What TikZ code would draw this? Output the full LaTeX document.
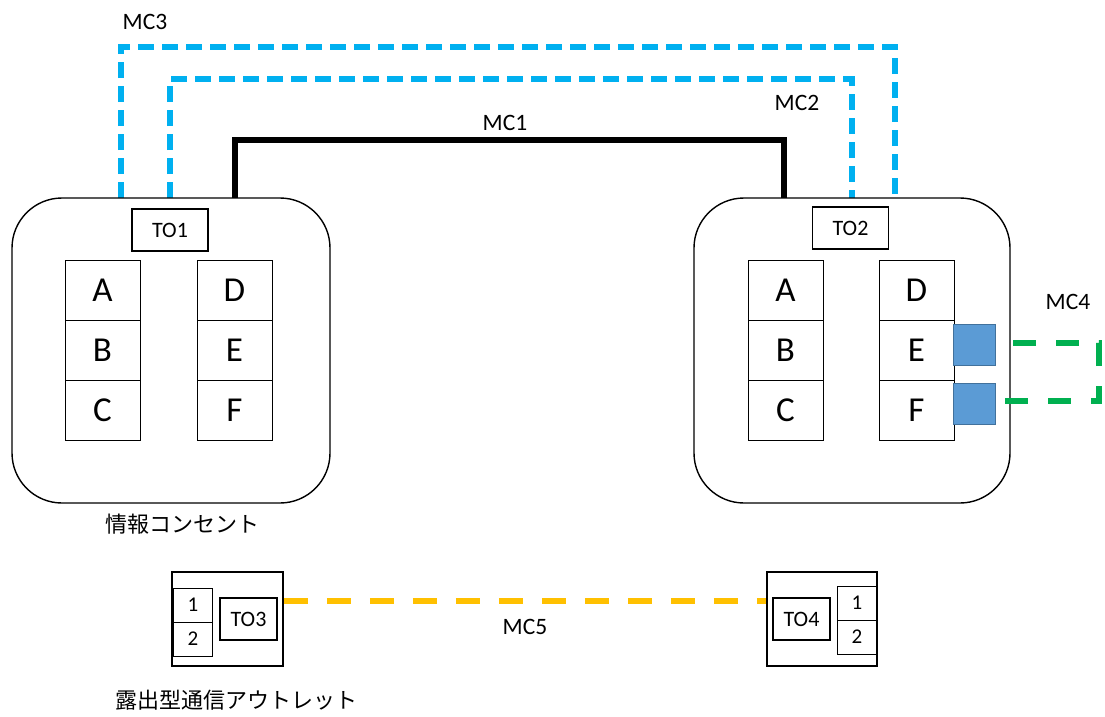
\documentclass[tikz,border=0pt]{standalone}
\usepackage{fontspec}
\setmainfont{Carlito}
\newfontfamily\jpfont{Noto Sans CJK JP}
\begin{document}
\begin{tikzpicture}[x=1pt,y=-1pt,
  outlet/.style={draw,line width=1.4pt,rounded corners=50pt},
  tobox/.style={draw,line width=1.5pt,minimum width=76pt,minimum height=42pt,inner sep=0pt,font=\fontsize{22}{26}\selectfont},
  port/.style={draw,line width=0.7pt,minimum width=75pt,minimum height=60pt,inner sep=0pt,font=\fontsize{35}{40}\selectfont},
  lbl/.style={font=\fontsize{23.5}{27}\selectfont,inner sep=0pt},
  jplbl/.style={font=\jpfont\fontsize{22}{26}\selectfont,inner sep=0pt},
  blueline/.style={draw={rgb,255:red,0;green,176;blue,240},line width=6pt,dash pattern=on 16pt off 8pt},
  mc1line/.style={draw=black,line width=6pt},
  greenline/.style={draw={rgb,255:red,0;green,176;blue,80},line width=5.5pt,dash pattern=on 23pt off 20pt},
  yelline/.style={draw={rgb,255:red,255;green,192;blue,0},line width=5.5pt,dash pattern=on 24pt off 19pt},
  plug/.style={draw={rgb,255:red,65;green,113;blue,156},fill={rgb,255:red,91;green,155;blue,213},line width=0.8pt,minimum width=42pt,minimum height=41pt,inner sep=0pt},
  smallbox/.style={draw,line width=1.5pt,minimum width=57pt,minimum height=42pt,inner sep=0pt,font=\fontsize{22}{26}\selectfont},
  numbox/.style={draw,line width=0.7pt,minimum width=39pt,minimum height=34pt,inner sep=0pt,font=\fontsize{21}{24}\selectfont}
]
\useasboundingbox (0,0) rectangle (1105,716);

% cables behind
\coordinate (l3) at (121,198); \coordinate (r3) at (895,198);
\coordinate (l2) at (170,198); \coordinate (r2) at (852,198);
\coordinate (l1) at (235,198); \coordinate (r1) at (784,198);
\draw[blueline] (l3) -- (121,47) -- (895,47) -- (r3);
\draw[blueline] (l2) -- (170,79) -- (852,79) -- (r2);
\draw[mc1line] (l1) -- (235,140) -- (784,140) -- (r1);

% outlets
\node[outlet,minimum width=318pt,minimum height=305pt,fill=white] (out1) at (171,350.5) {};
\node[outlet,minimum width=316pt,minimum height=305pt,fill=white] (out2) at (852,350.5) {};

\node[tobox] (to1) at (170,230) {TO1};
\node[tobox] (to2) at (850.5,228) {TO2};

\node[port] (la) at (102.5,290) {A};
\node[port] (lb) at (102.5,350) {B};
\node[port] (lc) at (102.5,410) {C};
\node[port] (ld) at (234.5,290) {D};
\node[port] (le) at (234.5,350) {E};
\node[port] (lf) at (234.5,410) {F};

\node[port] (ra) at (785.5,290) {A};
\node[port] (rb) at (785.5,350) {B};
\node[port] (rc) at (785.5,410) {C};
\node[port] (rd) at (916.5,290) {D};
\node[port] (re) at (916.5,350) {E};
\node[port] (rf) at (916.5,410) {F};

\node[plug] (pe) at (974,345) {};
\node[plug] (pf) at (974,403.5) {};
\coordinate (gf) at (1005,401);
\draw[greenline] (gf) -- (1099,401) -- (1099,343) -- (pe.east |- 0,343);

% labels
\node[lbl] at (145,22) {MC3};
\node[lbl] at (797,103) {MC2};
\node[lbl] at (505,123) {MC1};
\node[lbl] at (1068,302) {MC4};
\node[jplbl] at (182,524) {情報コンセント};

% exposed outlets
\node[draw,line width=1.8pt,minimum width=111pt,minimum height=94pt,inner sep=0pt] (o3) at (227.5,619) {};
\node[numbox] (n31) at (193,605) {1};
\node[numbox] (n32) at (193,639) {2};
\node[smallbox] (to3) at (248.5,619) {TO3};

\node[draw,line width=1.8pt,minimum width=110pt,minimum height=94pt,inner sep=0pt] (o4) at (822,619) {};
\node[smallbox] (to4) at (801.5,619) {TO4};
\node[numbox,minimum width=40pt] (n41) at (857,603) {1};
\node[numbox,minimum width=40pt] (n42) at (857,637) {2};

\draw[yelline] (o3.east |- 0,601) -- (o4.west |- 0,601);
\node[lbl] at (525,627) {MC5};
\node[jplbl] at (236,700) {露出型通信アウトレット};
\end{tikzpicture}
\end{document}
